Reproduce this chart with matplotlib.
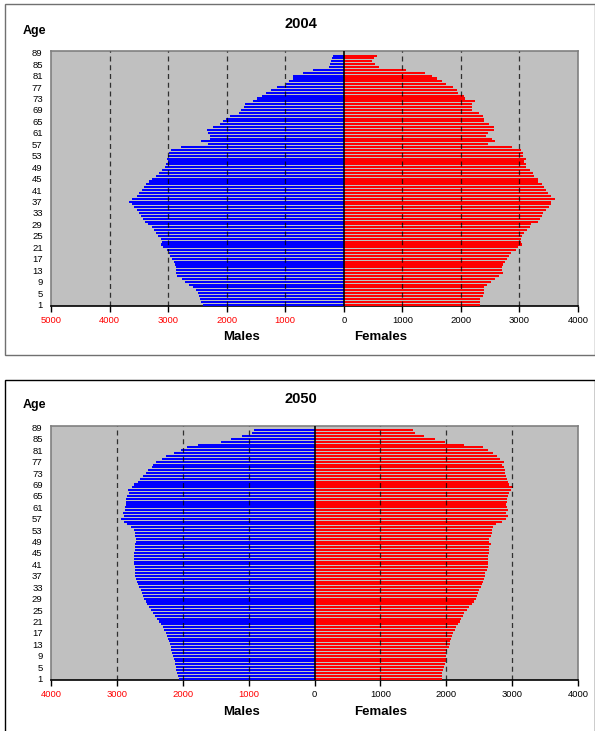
import matplotlib
matplotlib.use("Agg")
import matplotlib.pyplot as plt
from matplotlib.patches import Rectangle
import numpy as np

plt.rcParams['font.family'] = ['Liberation Sans', 'DejaVu Sans']

ages = list(range(1, 90))  # 1..89

# values listed from age 89 down to age 1
males_2004 = [0, 183, 200, 217, 240, 250, 532, 700, 865, 870, 933, 990, 1145, 1236, 1328, 1400,
              1477, 1545, 1689, 1700, 1760, 1790, 1935, 2015, 2060, 2106, 2232, 2335, 2320, 2278,
              2290, 2430, 2320, 2776, 2948, 2977, 3000, 3022, 3005, 3030, 3060, 3100, 3150, 3200,
              3282, 3330, 3380, 3420, 3452, 3490, 3530, 3620, 3660, 3620, 3580, 3530, 3490, 3460,
              3430, 3400, 3340, 3280, 3240, 3200, 3170, 3120, 3100, 3120, 3080, 3020, 2990, 2960,
              2940, 2900, 2880, 2870, 2860, 2860, 2840, 2760, 2710, 2640, 2580, 2520, 2490, 2480,
              2450, 2430, 2410]
females_2004 = [0, 566, 509, 486, 526, 600, 1069, 1394, 1509, 1594, 1669, 1754, 1869, 1937, 1954,
                2057, 2069, 2240, 2183, 2194, 2183, 2309, 2383, 2394, 2394, 2486, 2566, 2566, 2469,
                2429, 2526, 2583, 2469, 2880, 3029, 3057, 3057, 3114, 3086, 3109, 3114, 3183, 3223,
                3257, 3314, 3314, 3383, 3423, 3457, 3480, 3537, 3600, 3543, 3543, 3497, 3451, 3406,
                3383, 3354, 3314, 3200, 3183, 3126, 3080, 3040, 3029, 3029, 3040, 2983, 2937, 2851,
                2823, 2794, 2754, 2726, 2709, 2709, 2720, 2651, 2583, 2509, 2451, 2394, 2394, 2394,
                2371, 2326, 2326, 2320]
males_2050 = [0, 920, 950, 1100, 1260, 1420, 1770, 1940, 2030, 2140, 2250, 2310, 2400, 2450, 2470,
              2530, 2560, 2610, 2645, 2680, 2740, 2766, 2830, 2816, 2850, 2856, 2860, 2860, 2870,
              2870, 2907, 2897, 2940, 2897, 2846, 2781, 2740, 2720, 2720, 2705, 2710, 2720, 2725,
              2730, 2735, 2740, 2740, 2735, 2735, 2730, 2730, 2725, 2720, 2705, 2695, 2680, 2660,
              2640, 2620, 2600, 2590, 2565, 2540, 2510, 2485, 2455, 2420, 2390, 2360, 2330, 2300,
              2280, 2260, 2245, 2230, 2215, 2200, 2185, 2175, 2165, 2155, 2140, 2125, 2115, 2105,
              2095, 2085, 2070, 2050]
females_2050 = [0, 1495, 1525, 1662, 1830, 1983, 2262, 2562, 2628, 2705, 2771, 2817, 2883, 2847,
                2883, 2898, 2898, 2908, 2918, 2933, 2949, 3020, 2984, 2959, 2944, 2923, 2918, 2908,
                2918, 2933, 2908, 2944, 2908, 2842, 2756, 2705, 2694, 2694, 2679, 2654, 2644, 2679,
                2654, 2644, 2654, 2633, 2628, 2628, 2628, 2628, 2613, 2593, 2588, 2567, 2557, 2542,
                2527, 2501, 2476, 2466, 2450, 2420, 2389, 2349, 2310, 2273, 2247, 2222, 2206, 2176,
                2145, 2130, 2110, 2084, 2079, 2064, 2054, 2044, 2018, 2003, 1993, 1993, 1993, 1983,
                1967, 1957, 1942, 1942, 1932]

years = ["2004", "2050"]
age_tick_labels = [str(a) for a in range(1, 90, 4)]

W, H = 595, 731
fig = plt.figure(figsize=(W / 100, H / 100), dpi=100)


def fx(px):
    return px / W


def fy(py):
    return 1 - py / H


# outer panel frames
fig.patches.append(Rectangle((fx(4.5), fy(355)), fx(590), (351) / H, transform=fig.transFigure,
                             fill=False, edgecolor='#707070', lw=1.0))
fig.patches.append(Rectangle((fx(4.5), fy(740)), fx(590), (740 - 379.5) / H, transform=fig.transFigure,
                             fill=False, edgecolor='#000000', lw=1.0))

panels = [
    dict(year=years[0], males=males_2004, females=females_2004, xmin=-5000, xmax=4000,
         top=51.3, bottom=306, title_y=24, age_y=30.7, lab_y=337),
    dict(year=years[1], males=males_2050, females=females_2050, xmin=-4000, xmax=4000,
         top=426, bottom=680, title_y=399, age_y=405, lab_y=712),
]

ages_desc = ages[::-1]

for p in panels:
    ax = fig.add_axes([fx(51), fy(p['bottom']), fx(578 - 51), (p['bottom'] - p['top']) / H])
    ax.set_facecolor('#C0C0C0')
    m = -np.array(p['males'])
    f = np.array(p['females'])
    ax.barh(ages_desc, m, height=0.72, color='#0000FF', edgecolor='none', zorder=3)
    ax.barh(ages_desc, f, height=0.72, color='#FF0000', edgecolor='none', zorder=3)
    ax.set_xlim(p['xmin'], p['xmax'])
    ax.set_ylim(0.5, 89.5)
    for v in range(p['xmin'] + 1000, p['xmax'], 1000):
        if v == 0:
            continue
        ax.axvline(v, color='black', lw=0.9, ls=(0, (4, 3)), alpha=0.75, zorder=4)
    ax.axvline(0, color='black', lw=1.2, zorder=5)
    xt = list(range(p['xmin'], p['xmax'] + 1, 1000))
    ax.set_xticks(xt)
    ax.set_xticklabels([str(abs(v)) for v in xt], fontsize=6.8)
    for lab, v in zip(ax.get_xticklabels(), xt):
        lab.set_color('#FF0000' if v < 0 else 'black')
    ax.tick_params(axis='x', direction='out', length=4, width=1, pad=3, color='black')
    ax.set_yticks(list(range(1, 90, 4)))
    ax.set_yticklabels(age_tick_labels, fontsize=6.8)
    ax.tick_params(axis='y', length=0, pad=6)
    for s in ['top', 'right', 'left']:
        ax.spines[s].set_color('#808080')
        ax.spines[s].set_linewidth(1.2)
    ax.spines['bottom'].set_color('black')
    ax.spines['bottom'].set_linewidth(1.2)
    fig.text(fx(301), fy(p['title_y']), p['year'], ha='center', va='center',
             fontsize=10.5, fontweight='bold')
    fig.text(fx(34.5), fy(p['age_y']), 'Age', ha='center', va='center',
             fontsize=9, fontweight='bold')
    fig.text(fx(242), fy(p['lab_y']), 'Males', ha='center', va='center',
             fontsize=9.5, fontweight='bold')
    fig.text(fx(381), fy(p['lab_y']), 'Females', ha='center', va='center',
             fontsize=9.5, fontweight='bold')

fig.savefig('out.png', dpi=100)
